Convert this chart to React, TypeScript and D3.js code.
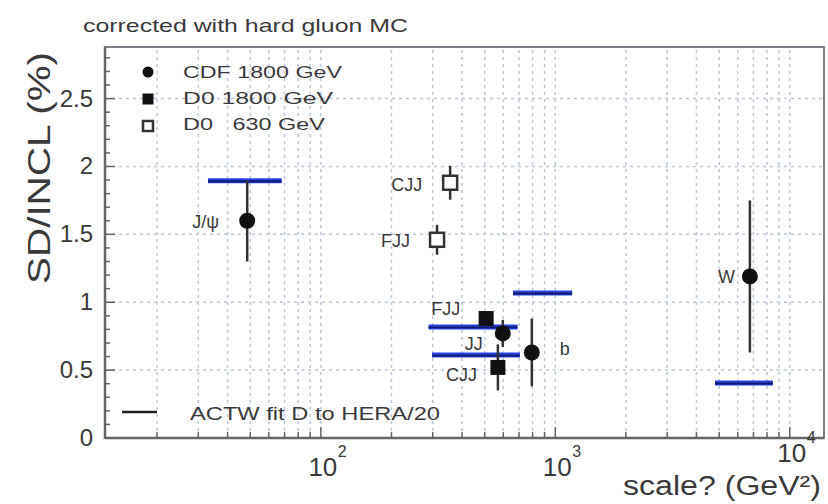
import React from 'react';
import * as d3 from 'd3';

const pointLabels = ['J/ψ', 'CJJ', 'FJJ', 'FJJ', 'JJ', 'CJJ', 'b', 'W'];
const pointSeries = ['CDF 1800', 'D0 630', 'D0 630', 'D0 1800', 'CDF 1800', 'D0 1800', 'CDF 1800', 'CDF 1800'];
const pointScale = [48.5, 356, 313, 507, 597, 569, 794, 6760];
const pointValue = [1.6, 1.88, 1.46, 0.88, 0.77, 0.52, 0.63, 1.19];
const pointError = [0.3, 0.125, 0.11, 0.05, 0.1, 0.17, 0.25, 0.56];

// ACTW fit D to HERA/20 predictions (horizontal segments)
const fitFrom = [33, 660, 288, 298, 4800];
const fitTo = [68, 1180, 690, 706, 8470];
const fitValue = [1.895, 1.068, 0.818, 0.611, 0.405];

const legendSeries = ['CDF 1800', 'D0 1800', 'D0 630'];
const legendText = ['CDF 1800 GeV', 'D0 1800 GeV', 'D0\u00A0\u00A0\u00A0630 GeV'];
const yTicks = [0, 0.5, 1, 1.5, 2, 2.5];
const xDecades = [2, 3, 4];

// label offsets from the marker (px)
const labelOffsets = [
  [-28, 7], [-28, 8], [-27, 7], [-26, -4], [-20, 17], [-21, 14], [28, 3], [-15, 7],
];

const W = 828;
const H = 504;
const ink = '#3a3a3a';
const gridColor = '#bcc7da';
const blue = '#2540e0';
const font = 'Liberation Sans, Arial, sans-serif';

const Marker = ({ kind, cx, cy, big }: { kind: string; cx: number; cy: number; big: boolean }) => {
  if (kind === 'CDF 1800') {
    return <circle cx={cx} cy={cy} r={big ? 8 : 5.5} fill="#111" />;
  }
  const s = big ? 15 : 11;
  if (kind === 'D0 1800') {
    return <rect x={cx - s / 2} y={cy - s / 2} width={s} height={s} fill="#111" />;
  }
  const so = big ? 14 : 10;
  return (
    <rect x={cx - so / 2} y={cy - so / 2} width={so} height={so}
      fill="#fff" stroke="#333" strokeWidth={2.5} />
  );
};

export default function App() {
  const x = d3.scaleLog().domain([12, 14000]).range([105, 824]);
  const y = d3.scaleLinear().domain([0, 2.88]).range([438, 47]);
  const [x0, x1] = x.range();
  const [y0, y1] = y.range();

  // minor grid / tick positions: 20..90, 100..900, ...
  const minor: number[] = [];
  for (let e = 1; e <= 4; e++) {
    for (let m = 1; m <= 9; m++) {
      const v = m * Math.pow(10, e);
      if (v > 12 && v <= 14000) minor.push(v);
    }
  }
  const yMinor = d3.range(0, 29).map((i) => i / 10);

  return (
    <svg width={W} height={H} style={{ position: 'absolute', left: 0, top: 0, background: '#fff' }}
      fontFamily={font}>
      <text x={83} y={32} fontSize={19} fill={ink} textLength={325} lengthAdjust="spacingAndGlyphs">
        corrected with hard gluon MC
      </text>

      {/* grid */}
      {minor.map((v) => (
        <line key={'gx' + v} x1={x(v)} x2={x(v)} y1={y0} y2={y1}
          stroke={gridColor} strokeWidth={1.5} strokeDasharray="3,4" />
      ))}
      {yTicks.slice(1).map((v) => (
        <line key={'gy' + v} x1={x0} x2={x1} y1={y(v)} y2={y(v)}
          stroke={gridColor} strokeWidth={1.5} strokeDasharray="3,4" />
      ))}

      {/* frame */}
      <rect x={x0} y={y1} width={x1 - x0} height={y0 - y1} fill="none" stroke="#7a7f88" strokeWidth={2} />
      <line x1={x0} x2={x0} y1={y0 + 1} y2={y1} stroke="#666" strokeWidth={2.5} />
      <line x1={x0} x2={x1} y1={y0} y2={y0} stroke="#666" strokeWidth={2.5} />

      {/* y ticks */}
      {yMinor.map((v, i) => (
        <line key={'ty' + i} x1={x0} x2={x0 + (i % 5 === 0 ? 10 : 5)} y1={y(v)} y2={y(v)}
          stroke="#666" strokeWidth={1.5} />
      ))}
      {yTicks.map((v) => (
        <text key={'ly' + v} x={93} y={y(v) + 8} fontSize={24} fill={ink} textAnchor="end">
          {String(v)}
        </text>
      ))}

      {/* x ticks */}
      {minor.map((v) => {
        const major = Math.abs(Math.log10(v) - Math.round(Math.log10(v))) < 1e-9;
        return (
          <line key={'tx' + v} x1={x(v)} x2={x(v)} y1={y0} y2={y0 - (major ? 11 : 6)}
            stroke="#666" strokeWidth={1.5} />
        );
      })}
      {xDecades.map((e, i) => {
        const px = x(Math.pow(10, e));
        const base = i === xDecades.length - 1 ? 462 : 476;
        return (
          <g key={'lx' + e}>
            <text x={px + 2} y={base} fontSize={26} fill={ink} textAnchor="middle">10</text>
            <text x={px + 17} y={base - 19} fontSize={16} fill={ink}>{e}</text>
          </g>
        );
      })}

      <text x={623} y={495} fontSize={27} fill={ink} textLength={198} lengthAdjust="spacingAndGlyphs">
        scale? (GeV²)
      </text>
      <text transform="translate(50,168) rotate(-90)" fontSize={32} fill={ink} textAnchor="middle"
        textLength={232} lengthAdjust="spacingAndGlyphs">
        SD/INCL (%)
      </text>

      {/* fit segments */}
      {fitValue.map((v, i) => (
        <g key={'fit' + i}>
          <line x1={x(fitFrom[i])} x2={x(fitTo[i])} y1={y(v)} y2={y(v)} stroke={blue} strokeWidth={5} />
          <line x1={x(fitFrom[i])} x2={x(fitTo[i])} y1={y(v) + 0.5} y2={y(v) + 0.5}
            stroke="#141a6a" strokeWidth={1.8} />
        </g>
      ))}

      {/* error bars + markers */}
      {pointValue.map((v, i) => {
        const cx = x(pointScale[i]);
        return (
          <g key={'pt' + i}>
            <line x1={cx} x2={cx} y1={y(v - pointError[i])} y2={y(v + pointError[i])}
              stroke="#333" strokeWidth={2.5} />
            <Marker kind={pointSeries[i]} cx={cx} cy={y(v)} big={true} />
            <text x={cx + labelOffsets[i][0]} y={y(v) + labelOffsets[i][1]} fontSize={18}
              fill={ink} textAnchor={labelOffsets[i][0] < 0 ? 'end' : 'start'}>
              {pointLabels[i]}
            </text>
          </g>
        );
      })}

      {/* legend */}
      {legendSeries.map((s, i) => (
        <g key={'lg' + s}>
          <Marker kind={s} cx={148} cy={72 + i * 27} big={false} />
          <text x={183} y={78 + i * 26} fontSize={17} fill={ink}
            textLength={[159, 150, 142][i]} lengthAdjust="spacingAndGlyphs">
            {legendText[i]}
          </text>
        </g>
      ))}
      <line x1={122} x2={157} y1={412} y2={412} stroke="#222" strokeWidth={2.5} />
      <text x={190} y={420} fontSize={19} fill={ink} textLength={250} lengthAdjust="spacingAndGlyphs">
        ACTW fit D to HERA/20
      </text>
    </svg>
  );
}
